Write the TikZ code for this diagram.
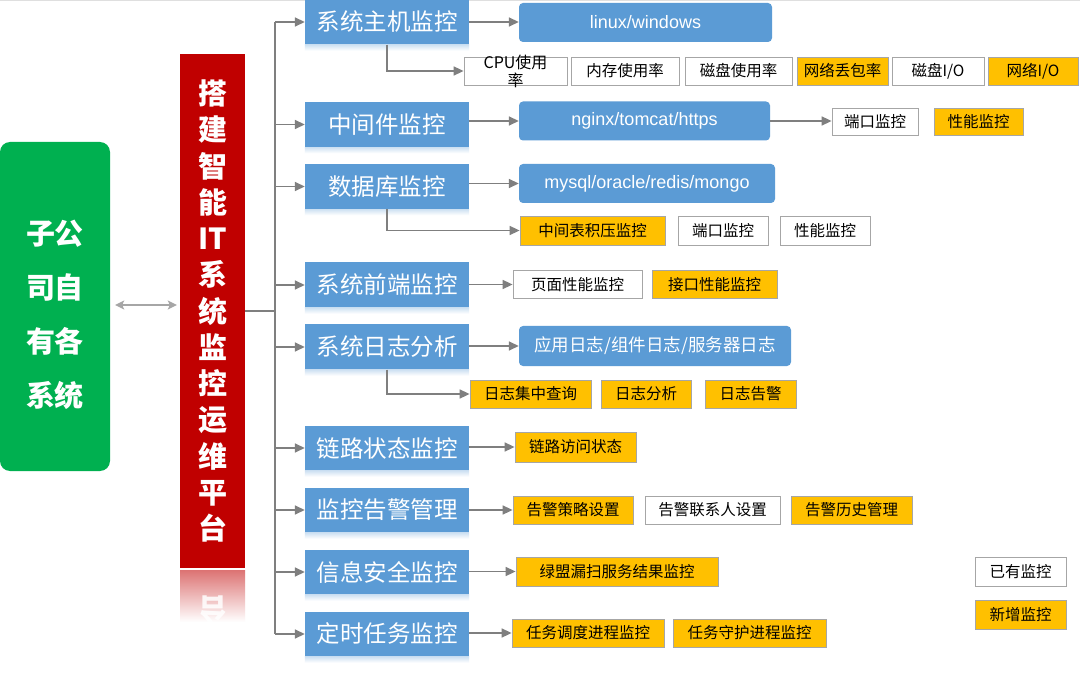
\documentclass[tikz,border=0pt]{standalone}
\usepackage{fontspec}
\setmainfont{Noto Sans CJK SC}
\newfontfamily\lat{Liberation Sans}
\usetikzlibrary{arrows.meta}
\definecolor{blueC}{HTML}{5B9BD5}
\definecolor{orangeC}{HTML}{FFC000}
\definecolor{greenC}{HTML}{00B050}
\definecolor{redC}{HTML}{C00000}
\definecolor{lineC}{HTML}{7F7F7F}
\definecolor{boxline}{HTML}{A6A6A6}
\tikzset{
  lbox/.style={fill=blueC, text=white, minimum width=164pt, minimum height=45pt, inner sep=0pt, font=\fontsize{23.5}{25}\selectfont},
  rbox/.style={fill=blueC, text=white, rounded corners=4pt, minimum height=39pt, inner sep=0pt, font=\fontsize{17.5}{19}\selectfont},
  wbox/.style={draw=boxline, line width=0.8pt, fill=white, text=black, minimum height=28pt, inner sep=0pt, font=\fontsize{15.5}{16}\selectfont},
  obox/.style={wbox, fill=orangeC},
  arr/.style={draw=lineC, line width=1.6pt, -{Triangle[length=10pt,width=9pt]}},
  trunk/.style={draw=lineC, line width=1.6pt},
  darr/.style={draw=boxline, line width=1.6pt, {Stealth[length=9pt,width=9pt,inset=2pt]}-{Stealth[length=9pt,width=9pt,inset=2pt]}},
}
\begin{document}
\begin{tikzpicture}[x=1pt,y=-1pt]
\useasboundingbox (0,0) rectangle (1080,695);
\fill[white] (0,0) rectangle (1080,695);
\draw[gray!25, line width=1pt] (0,0.5) -- (1080,0.5);

% left green box
\node[fill=greenC, rounded corners=10pt, minimum width=110pt, minimum height=329pt, inner sep=0pt] (g) at (55,306.5) {};
\node[text=white, font=\bfseries\fontsize{29}{54}\selectfont, align=center, inner sep=0pt] (gt) at (55,315) {子公\\司自\\有各\\系统};

% red platform box
\node[fill=redC, minimum width=65pt, minimum height=514pt, inner sep=0pt] (r) at (212.5,311) {};
\node[text=white, font=\bfseries\fontsize{29}{36.25}\selectfont, align=center, inner sep=0pt] (rt) at (212.5,311) {搭\\建\\智\\能\\IT\\系\\统\\监\\控\\运\\维\\平\\台};
% reflection
\shade[top color=redC!55!white, bottom color=white] (180,570) rectangle (245,622);
\begin{scope}
\clip (180,570) rectangle (245,622);
\node[yscale=-1, text=white, opacity=0.85, font=\bfseries\fontsize{29}{30}\selectfont, inner sep=0pt] (rf) at (212.5,610) {台};
\end{scope}

\draw[darr] ([xshift=5pt]g.east |- 0,305) -- ([xshift=-3pt]r.west |- 0,305);

% left column blue boxes
\node[lbox] (b1) at (387,22) {系统主机监控};
\node[lbox] (b2) at (387,124.5) {中间件监控};
\node[lbox] (b3) at (387,186.5) {数据库监控};
\node[lbox] (b4) at (387,285) {系统前端监控};
\node[lbox] (b5) at (387,347) {系统日志分析};
\node[lbox] (b6) at (387,448) {链路状态监控};
\node[lbox] (b7) at (387,510) {监控告警管理};
\node[lbox] (b8) at (387,572) {信息安全监控};
\node[lbox] (b9) at (387,634) {定时任务监控};
\foreach \b in {b1,b2,b3,b4,b5,b6,b7,b8,b9}{
  \shade[top color=blueC!30!white, bottom color=white] (\b.south west) rectangle ([yshift=-6pt]\b.south east);
}

% trunk
\coordinate (t) at (275,311);
\draw[trunk] (r.east |- t) -- (t);
\draw[trunk] (t |- b1.west) -- (t |- b9.west);
\foreach \b in {b1,b2,b3,b4,b5,b6,b7,b8,b9}{
  \draw[arr] (t |- \b.west) -- (\b.west);
}

% row 1
\node[rbox, minimum width=253pt, font=\lat\fontsize{18}{19}\selectfont] (r1) at (645.5,22.5) {linux/windows};
\draw[arr] (b1.east) -- (b1.east -| r1.west);
\node[wbox, minimum width=103pt] (c1) at (515.5,71) {};
\node[align=center, inner sep=0pt, font=\fontsize{16}{18}\selectfont] (c1t) at (515.5,71.5) {CPU使用\\率};
\node[wbox, minimum width=108pt] (c2) at (625,71) {内存使用率};
\node[wbox, minimum width=107pt] (c3) at (738.5,71) {磁盘使用率};
\node[obox, minimum width=91pt] (c4) at (842.5,71) {网络丢包率};
\node[wbox, minimum width=92pt] (c5) at (938,71) {磁盘I/O};
\node[obox, minimum width=90pt] (c6) at (1033,71) {网络I/O};
\draw[arr] (b1.south) |- (c1.west);

% row 2
\node[rbox, minimum width=251pt, font=\lat\fontsize{18}{19}\selectfont] (r2) at (644.5,121) {nginx/tomcat/https};
\draw[arr] (b2.east |- r2.west) -- (r2.west);
\node[wbox, minimum width=86pt, minimum height=27pt] (d1) at (875,121.5) {端口监控};
\node[obox, minimum width=89pt, minimum height=27pt] (d2) at (978.5,121.5) {性能监控};
\draw[arr] (r2.east) -- (r2.east -| d1.west);

% row 3
\node[rbox, minimum width=256pt, font=\lat\fontsize{18}{19}\selectfont] (r3) at (647,183.5) {mysql/oracle/redis/mongo};
\draw[arr] (b3.east |- r3.west) -- (r3.west);
\node[obox, minimum width=145pt, minimum height=29pt] (e1) at (592.5,230.5) {中间表积压监控};
\node[wbox, minimum width=90pt, minimum height=29pt] (e2) at (723,230.5) {端口监控};
\node[wbox, minimum width=90pt, minimum height=29pt] (e3) at (825,230.5) {性能监控};
\draw[arr] (b3.south) |- (e1.west);

% row 4
\node[wbox, minimum width=129pt] (f1) at (577.5,284.5) {页面性能监控};
\node[obox, minimum width=125pt] (f2) at (714.5,284.5) {接口性能监控};
\draw[arr] (b4.east |- f1.west) -- (f1.west);

% row 5
\node[rbox, minimum width=272pt, minimum height=40pt] (r5) at (655,346) {应用日志/组件日志/服务器日志};
\draw[arr] (b5.east |- r5.west) -- (r5.west);
\node[obox, minimum width=121pt] (g1) at (530.5,394) {日志集中查询};
\node[obox, minimum width=90pt] (g2) at (646,394) {日志分析};
\node[obox, minimum width=91pt] (g3) at (750.5,394) {日志告警};
\draw[arr] (b5.south) |- (g1.west);

% row 6
\node[obox, minimum width=121pt, minimum height=30pt] (h1) at (575.5,447) {链路访问状态};
\draw[arr] (b6.east |- h1.west) -- (h1.west);

% row 7
\node[obox, minimum width=120pt] (i1) at (573,510) {告警策略设置};
\node[wbox, minimum width=135pt] (i2) at (712.5,510) {告警联系人设置};
\node[obox, minimum width=121pt] (i3) at (851.5,510) {告警历史管理};
\draw[arr] (b7.east |- i1.west) -- (i1.west);

% row 8
\node[obox, minimum width=202pt, minimum height=29pt] (j1) at (617,571.5) {绿盟漏扫服务结果监控};
\draw[arr] (b8.east |- j1.west) -- (j1.west);

% row 9
\node[obox, minimum width=152pt] (k1) at (588,633) {任务调度进程监控};
\node[obox, minimum width=153pt] (k2) at (749.5,633) {任务守护进程监控};
\draw[arr] (b9.east |- k1.west) -- (k1.west);

% legend
\node[wbox, minimum width=91pt, minimum height=29pt] (l1) at (1020.5,571.5) {已有监控};
\node[obox, minimum width=91pt, minimum height=29pt] (l2) at (1020.5,615) {新增监控};
\end{tikzpicture}
\end{document}
